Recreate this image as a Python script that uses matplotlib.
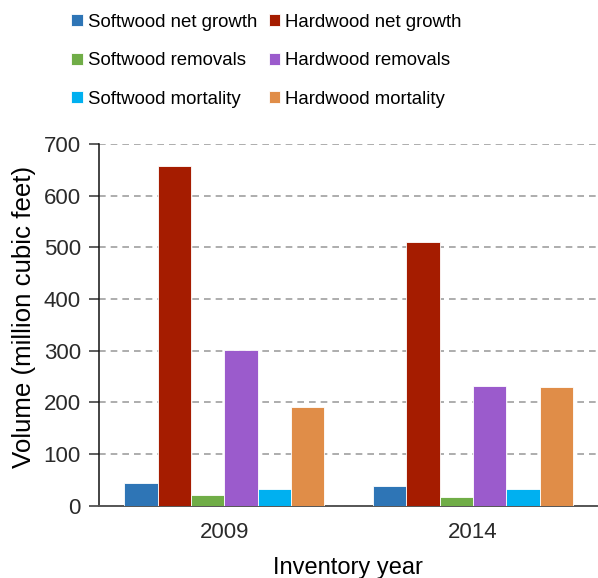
import numpy as np
import matplotlib.pyplot as plt

plt.rcParams['font.family'] = ['Liberation Sans', 'DejaVu Sans']

# ---------- Data ----------
years = ["2009", "2014"]
series_names = ["Softwood net growth", "Hardwood net growth",
                "Softwood removals", "Hardwood removals",
                "Softwood mortality", "Hardwood mortality"]
sw_net_growth = [44, 38]
hw_net_growth = [657, 511]
sw_removals = [20, 16]
hw_removals = [301, 232]
sw_mortality = [33, 33]
hw_mortality = [192, 230]
colors = ["#2e75b6", "#a51c00", "#70ad47", "#9b5bcc", "#00b0f0", "#e08d48"]

values = [sw_net_growth, hw_net_growth, sw_removals,
          hw_removals, sw_mortality, hw_mortality]

# ---------- Plot ----------
fig = plt.figure(figsize=(5.98, 5.78), dpi=100)
ax = fig.add_axes([0.1656, 0.125, 0.833, 0.626])

x = np.arange(len(years))
n = len(values)
w = 0.805 / n
handles = []
for k, (vals, c, name) in enumerate(zip(values, colors, series_names)):
    b = ax.bar(x - 0.4025 + w * (k + 0.5), vals, width=w, color=c,
               edgecolor="white", linewidth=0.6, label=name, zorder=3)
    handles.append(b)

ax.set_xlim(-0.505, 1.5)
ax.set_ylim(0, 700)
ax.set_yticks(range(0, 701, 100))
ax.set_xticks(x)
ax.set_xticklabels(years)
ax.tick_params(axis="both", labelsize=16, colors="#2a2a2a")
ax.tick_params(axis="x", length=0, pad=12)
ax.tick_params(axis="y", length=7, width=1.1, direction="out", color="#333333", pad=6)
ax.yaxis.grid(True, linestyle=(0, (4, 3)), color="#a0a0a0", linewidth=1.2, zorder=0)
ax.spines["top"].set_visible(False)
ax.spines["right"].set_visible(False)
ax.spines["left"].set_color("#111111")
ax.spines["left"].set_linewidth(1.1)
ax.spines["bottom"].set_color("#555555")
ax.spines["bottom"].set_linewidth(1.4)

ax.set_ylabel("Volume (million cubic feet)", fontsize=18.6)
ax.yaxis.set_label_coords(-0.127, 0.521)
ax.set_xlabel("Inventory year", fontsize=17, labelpad=10)

order = [0, 2, 4, 1, 3, 5]
fig.legend([handles[i] for i in order], [series_names[i] for i in order],
           ncol=2, loc="upper center", bbox_to_anchor=(0.446, 1.005),
           frameon=False, fontsize=13.4, handlelength=0.6, handleheight=0.6,
           handletextpad=0.3, columnspacing=0.6, labelspacing=1.15)

fig.savefig("out.png", dpi=100)
